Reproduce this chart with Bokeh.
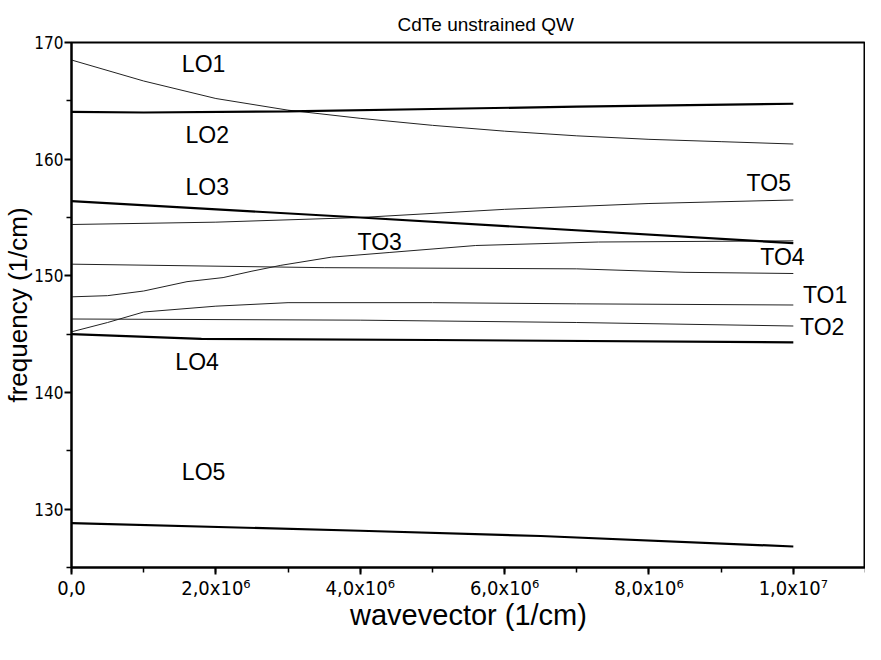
from bokeh.plotting import figure
from bokeh.models import FixedTicker, CustomJSTickFormatter, Range1d, ColumnDataSource
from bokeh.core.properties import value
from bokeh.embed import file_html
from bokeh.resources import INLINE

# ---- data (frequency in 1/cm vs wavevector in 1/cm) ----
lo1_x = [0, 1e6, 2e6, 3e6, 4e6, 5e6, 6e6, 7e6, 8e6, 9e6, 1e7]
lo1_y = [168.5, 166.7, 165.2, 164.2, 163.5, 162.9, 162.4, 162.0, 161.7, 161.5, 161.3]
lo2_x = [0, 1e6, 3e6, 5e6, 7e6, 1e7]
lo2_y = [164.05, 164.0, 164.1, 164.3, 164.5, 164.75]
lo3_x = [0, 4e6, 1e7]
lo3_y = [156.4, 155.0, 152.8]
to5_x = [0, 2e6, 4e6, 6e6, 8e6, 1e7]
to5_y = [154.4, 154.6, 155.0, 155.7, 156.2, 156.5]
to3_x = [0, 0.5e6, 1e6, 1.6e6, 2.1e6, 2.5e6, 2.9e6, 3.6e6, 4.4e6, 5.6e6, 7.3e6, 1e7]
to3_y = [148.2, 148.3, 148.7, 149.5, 149.85, 150.4, 150.9, 151.6, 152.0, 152.6, 152.9, 153.0]
to4_x = [0, 3.5e6, 7e6, 8.5e6, 1e7]
to4_y = [151.0, 150.7, 150.6, 150.3, 150.2]
to1_x = [0, 0.5e6, 1e6, 2e6, 3e6, 5e6, 7e6, 1e7]
to1_y = [145.2, 146.0, 146.9, 147.4, 147.7, 147.7, 147.6, 147.5]
to2_x = [0, 4e6, 7e6, 1e7]
to2_y = [146.3, 146.2, 146.0, 145.7]
lo4_x = [0, 1.8e6, 5e6, 1e7]
lo4_y = [145.0, 144.6, 144.5, 144.3]
lo5_x = [0, 4e6, 6.5e6, 1e7]
lo5_y = [128.8, 128.15, 127.7, 126.8]

mode_names = ["LO1", "LO2", "LO3", "TO5", "TO3", "TO4", "TO1", "TO2", "LO4", "LO5"]
x_ticks = [0, 2e6, 4e6, 6e6, 8e6, 1e7]
y_ticks = [130, 140, 150, 160, 170]

# label anchor positions (kept separate from data)
label_pos = {
    "LO1": (1.83e6, 168.2), "LO2": (1.88e6, 162.05), "LO3": (1.88e6, 157.6),
    "TO5": (9.66e6, 158.0), "TO3": (4.27e6, 152.9), "TO4": (9.85e6, 151.6),
    "TO1": (1.044e7, 148.4), "TO2": (1.04e7, 145.6), "LO4": (1.74e6, 142.6),
    "LO5": (1.83e6, 133.2),
}

FONT = "Liberation Sans"
NARROW = "'Liberation Sans Narrow', 'DejaVu Sans Condensed', 'Liberation Sans'"

p = figure(width=865, height=644, output_backend="svg", toolbar_location=None,
           x_range=Range1d(0, 1.1e7), y_range=Range1d(125, 170),
           min_border_left=64, min_border_right=0, min_border_top=42, min_border_bottom=77)

p.title.text = "CdTe unstrained QW"
p.title.align = "left"
p.title.offset = 326
p.title.text_font = FONT
p.title.text_font_size = "19px"
p.title.text_font_style = "normal"
p.title.text_color = "black"
p.title.standoff = 16

p.xgrid.visible = False
p.ygrid.visible = False
p.outline_line_color = "black"
p.outline_line_width = 2
p.background_fill_color = "white"
p.border_fill_color = "white"

thick = [(lo2_x, lo2_y), (lo3_x, lo3_y), (lo4_x, lo4_y), (lo5_x, lo5_y)]
thin = [(lo1_x, lo1_y), (to5_x, to5_y), (to3_x, to3_y), (to4_x, to4_y),
        (to1_x, to1_y), (to2_x, to2_y)]
for xs, ys in thin:
    p.line(xs, ys, line_color="#222222", line_width=1)
for xs, ys in thick:
    p.line(xs, ys, line_color="black", line_width=2.2)

src = ColumnDataSource(dict(
    x=[label_pos[n][0] for n in mode_names],
    y=[label_pos[n][1] for n in mode_names],
    t=mode_names))
p.text(x="x", y="y", text="t", source=src, text_align="center", text_baseline="middle",
       text_font=value(FONT), text_font_size="23px", text_color="black")

p.xaxis.ticker = FixedTicker(ticks=x_ticks, minor_ticks=[i * 1e6 for i in range(0, 12)])
p.yaxis.ticker = FixedTicker(ticks=y_ticks, minor_ticks=[125, 135, 145, 155, 165])
p.xaxis.formatter = CustomJSTickFormatter(code="""
    if (tick == 0) return "0,0";
    const e = Math.floor(Math.log10(tick) + 1e-9);
    const m = tick / Math.pow(10, e);
    const sup = {"0":"\u2070","1":"\u00b9","2":"\u00b2","3":"\u00b3","4":"\u2074","5":"\u2075","6":"\u2076","7":"\u2077","8":"\u2078","9":"\u2079"};
    const es = String(e).split("").map(c => sup[c]).join("");
    return m.toFixed(1).replace(".", ",") + "x10" + es;
""")

for ax in (p.xaxis[0], p.yaxis[0]):
    ax.axis_line_width = 2
    ax.axis_line_color = "black"
    ax.major_tick_line_width = 2
    ax.minor_tick_line_width = 1.5
    ax.major_tick_out = 7
    ax.major_tick_in = 0
    ax.minor_tick_out = 5
    ax.minor_tick_in = 0
    ax.major_label_text_font = NARROW
    ax.major_label_text_color = "black"
    ax.axis_label_text_font = FONT
    ax.axis_label_text_font_style = "normal"
    ax.axis_label_text_color = "black"

p.xaxis.major_label_text_font_size = "20px"
p.yaxis.major_label_text_font_size = "17px"
p.xaxis.axis_label_text_font_size = "29px"
p.yaxis.axis_label_text_font_size = "26px"
p.xaxis.axis_label = "wavevector (1/cm)"
p.yaxis.axis_label = "frequency (1/cm)"
p.xaxis.major_label_standoff = 1
p.xaxis.axis_label_standoff = -4
p.yaxis.major_label_standoff = 1
p.yaxis.axis_label_standoff = -2

open("out.html", "w").write(file_html(p, INLINE))
